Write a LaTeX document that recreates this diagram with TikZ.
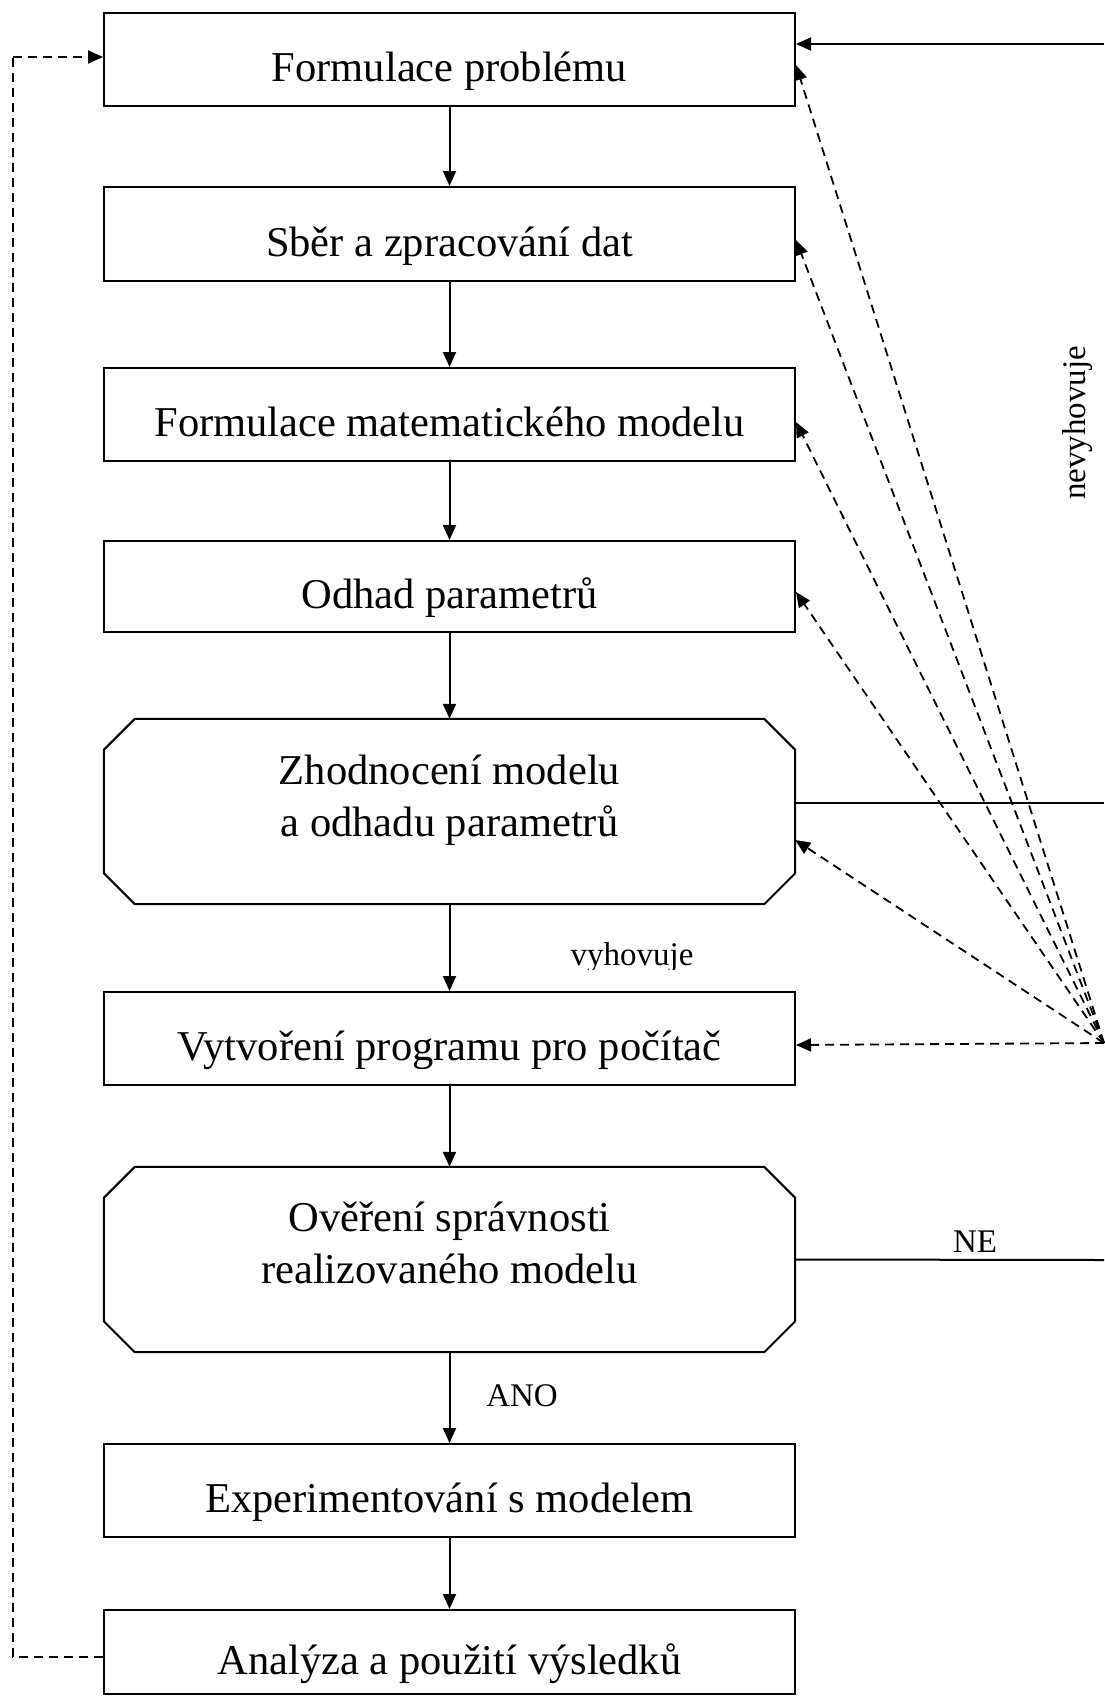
\documentclass[tikz,border=0pt]{standalone}
\usepackage{fontspec}
\setmainfont{Liberation Serif}
\usetikzlibrary{arrows.meta}
\begin{document}
\begin{tikzpicture}[x=1pt,y=-1pt,
  box/.style={draw, line width=2pt, minimum width=691pt, inner sep=0pt, font=\fontsize{42.5}{52}\selectfont, align=center, text height=44pt, text depth=0pt},
  octa/.style={draw=none, minimum width=691pt, inner sep=0pt},
  btext/.style={font=\fontsize{42.5}{52}\selectfont, align=center, inner sep=0pt},
  lbl/.style={font=\fontsize{33}{40}\selectfont, inner sep=0pt},
  outline/.style={line width=2pt, line join=miter},
  arr/.style={line width=2pt, -{Triangle[length=15pt,width=13pt]}},
  plain/.style={line width=2pt},
  dasharr/.style={line width=1.8pt, dash pattern=on 9pt off 6pt, -{Triangle[length=15pt,width=13pt]}},
  dashline/.style={line width=1.8pt, dash pattern=on 9pt off 6pt}
]
\useasboundingbox (0,0) rectangle (1104,1697);

% boxes
\node[box, minimum height=93pt] (b1) at (449.5,59.5) {Formulace problému};
\node[box, minimum height=94pt] (b2) at (449.5,234) {Sběr a zpracování dat};
\node[box, minimum height=93pt] (b3) at (449.5,414.5) {Formulace matematického modelu};
\node[box, minimum height=91pt] (b4) at (449.5,586.5) {Odhad parametrů};
\node[octa, minimum height=185pt] (o5) at (449.5,811.5) {};
\node[box, minimum height=93pt] (b6) at (449.5,1038.5) {Vytvoření programu pro počítač};
\node[octa, minimum height=185pt] (o7) at (449.5,1259.5) {};
\node[box, minimum height=93pt] (b8) at (449.5,1490.5) {Experimentování s modelem};
\node[box, minimum height=84pt] (b9) at (449.5,1652) {Analýza a použití výsledků};

% octagon outlines
\foreach \o in {o5,o7}{
  \draw[outline] ([xshift=31pt]\o.north west) -- ([xshift=-31pt]\o.north east)
    -- ([yshift=-31pt]\o.north east) -- ([yshift=31pt]\o.south east)
    -- ([xshift=-31pt]\o.south east) -- ([xshift=31pt]\o.south west)
    -- ([yshift=31pt]\o.south west) -- ([yshift=-31pt]\o.north west) -- cycle;
}
\node[btext] (t5) at (449.5,800) {Zhodnocení modelu\\a odhadu parametrů};
\node[btext] (t7) at (449.5,1243) {Ověření správnosti\\realizovaného modelu};

% main vertical flow
\draw[arr] (b1.south) -- (b2.north);
\draw[arr] (b2.south) -- (b3.north);
\draw[arr] (b3.south) -- (b4.north);
\draw[arr] (b4.south) -- (o5.north);
\draw[arr] (o5.south) -- (b6.north);
\draw[arr] (b6.south) -- (o7.north);
\draw[arr] (o7.south) -- (b8.north);
\draw[arr] (b8.south) -- (b9.north);

% right side solid lines
\coordinate (topR) at (1104,44);
\coordinate (midR) at (1104,803);
\coordinate (neR) at (1104,1260);
\draw[arr] (topR) -- ([yshift=15.5pt]b1.east);
\draw[plain] ([yshift=8.5pt]o5.east) -- (midR);
\draw[plain] (o7.east) -- (neR);

% dashed fan
\coordinate (src) at (1104,1043);
\draw[dasharr] (src) -- ([yshift=-5.5pt]b1.east);
\draw[dasharr] (src) -- ([yshift=-6pt]b2.east);
\draw[dasharr] (src) -- ([yshift=-7.5pt]b3.east);
\draw[dasharr] (src) -- ([yshift=-5.5pt]b4.east);
\draw[dasharr] (src) -- ([yshift=-28.5pt]o5.east);
\draw[dasharr] (src) -- ([yshift=-6.5pt]b6.east);

% left dashed feedback
\coordinate (lb) at (13,1657);
\coordinate (lt) at (13,57);
\draw[dashline] ([yshift=-5pt]b9.west) -- (lb) -- (lt);
\draw[dasharr] (lt) -- ([yshift=2.5pt]b1.west);

% labels
\begin{scope}
  \clip (540,900) rectangle (720,969);
  \node[lbl, anchor=base] (vyh) at (632,965) {vyhovuje};
\end{scope}
\node[lbl, anchor=base] (ano) at (522,1406) {ANO};
\node[lbl, anchor=base] (ne) at (975,1252) {NE};
\node[lbl, rotate=90] (nev) at (1078,423) {nevyhovuje};
\end{tikzpicture}
\end{document}
